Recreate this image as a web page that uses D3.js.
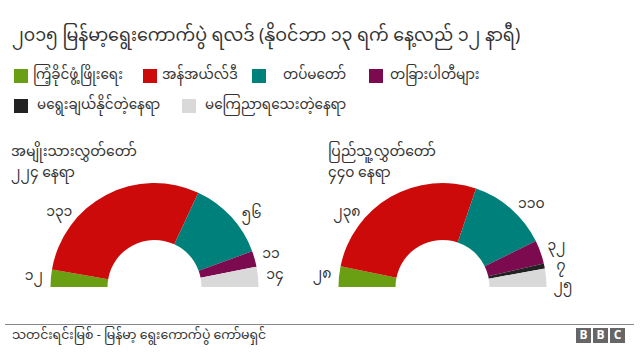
<!DOCTYPE html>
<html>
<head>
<meta charset="utf-8">
<script src="https://cdn.jsdelivr.net/npm/d3@7"></script>
<style>
  html, body { margin: 0; padding: 0; background: #fff; }
  svg { display: block; }
  text { font-family: "Noto Sans Myanmar", "Padauk", "Myanmar Text", "Noto Sans", sans-serif; fill: #333; }
</style>
</head>
<body>
<svg id="chart" width="640" height="360"></svg>
<script>
// ---- data ----
const titleText = "၂၀၁၅ မြန်မာ့ရွေးကောက်ပွဲ ရလဒ် (နိုဝင်ဘာ ၁၃ ရက် နေ့လည် ၁၂ နာရီ)";
const categories = ["ကြံ့ခိုင်ဖွံ့ဖြိုးရေး", "အန်အယ်လ်ဒီ", "တပ်မတော်", "တခြားပါတီများ", "မရွေးချယ်နိုင်တဲ့နေရာ", "မကြေညာရသေးတဲ့နေရာ"];
const colors = ["#6a9e13", "#cc0a0a", "#00807b", "#7b0a4f", "#222222", "#d9d9d9"];
const houseNames = ["အမျိုးသားလွှတ်တော်", "ပြည်သူ့လွှတ်တော်"];
const upperSeats = [12, 131, 56, 11, 0, 14];
const lowerSeats = [28, 238, 110, 32, 7, 25];
const seatWord = "နေရာ";
const sourceText = "သတင်းရင်းမြစ် - မြန်မာ့ ရွေးကောက်ပွဲ ကော်မရှင်";

// ---- helpers ----
const mmDigits = "၀၁၂၃၄၅၆၇၈၉";
const toMM = n => String(n).replace(/[0-9]/g, d => mmDigits[+d]);

const svg = d3.select("#chart");
svg.append("rect").attr("width", 640).attr("height", 360).attr("fill", "#fff");

// title
svg.append("text").attr("x", 12).attr("y", 41)
  .attr("font-size", 17.5).attr("fill", "#3a3a3a").text(titleText);

// legend
const legendPos = [[14, 69, 33], [143, 69, 162], [252, 69, 283], [369, 69, 390], [14, 99, 37], [182, 99, 205]];
const legend = svg.append("g");
categories.forEach((c, i) => {
  const [sx, sy, tx] = legendPos[i];
  legend.append("rect").attr("x", sx).attr("y", sy).attr("width", 14).attr("height", 14).attr("fill", colors[i]);
  legend.append("text").attr("x", tx).attr("y", sy + 7).attr("dominant-baseline", "central")
    .attr("font-size", 13.5).text(c);
});

// donuts
const houses = [
  { name: houseNames[0], seats: upperSeats, cx: 154.5, tx: 11 },
  { name: houseNames[1], seats: lowerSeats, cx: 442.5, tx: 328 }
];
const cy = 287, outerR = 104, innerR = 47, labelR = 121;

const pie = d3.pie().sort(null).startAngle(-Math.PI / 2).endAngle(Math.PI / 2).value(d => d.v);
const arc = d3.arc().innerRadius(innerR).outerRadius(outerR);

houses.forEach(h => {
  const total = d3.sum(h.seats);
  svg.append("text").attr("x", h.tx).attr("y", 152).attr("dominant-baseline", "central")
    .attr("font-size", 14).text(h.name);
  svg.append("text").attr("x", h.tx).attr("y", 173).attr("dominant-baseline", "central")
    .attr("font-size", 14).text(toMM(total) + " " + seatWord);

  const data = h.seats.map((v, i) => ({ v, i }));
  const arcs = pie(data);
  const g = svg.append("g").attr("transform", `translate(${h.cx},${cy})`);
  g.selectAll("path").data(arcs.filter(a => a.data.v > 0)).join("path")
    .attr("d", arc).attr("fill", a => colors[a.data.i]);

  // label positions (along the slice, with large slices labelled toward their start)
  const labels = arcs.filter(a => a.data.v > 0).map(a => {
    const span = a.endAngle - a.startAngle;
    const f = span > Math.PI / 2 ? 0.27 : (span > Math.PI / 6 ? 0.63 : 0.5);
    const ang = a.startAngle + span * f;
    return { v: a.data.v, x: labelR * Math.sin(ang), y: -labelR * Math.cos(ang) };
  });
  const right = labels.filter(l => l.x > 0).sort((a, b) => a.y - b.y);
  for (let k = 1; k < right.length; k++) {
    if (right[k].y < right[k - 1].y + 20) right[k].y = right[k - 1].y + 20;
  }
  g.selectAll("text.lbl").data(labels).join("text").attr("class", "lbl")
    .attr("x", l => l.x).attr("y", l => l.y)
    .attr("text-anchor", "middle").attr("dominant-baseline", "central")
    .attr("font-size", 14).text(l => toMM(l.v));
});

// footer
svg.append("line").attr("x1", 5).attr("x2", 634).attr("y1", 324.5).attr("y2", 324.5)
  .attr("stroke", "#888").attr("stroke-width", 1);
svg.append("text").attr("x", 12).attr("y", 336).attr("dominant-baseline", "central")
  .attr("font-size", 12.5).text(sourceText);
const bbc = svg.append("g");
["B", "B", "C"].forEach((ch, i) => {
  bbc.append("rect").attr("x", 576 + i * 17).attr("y", 328).attr("width", 15).attr("height", 15).attr("fill", "#666");
  bbc.append("text").attr("x", 576 + i * 17 + 7.5).attr("y", 336).attr("text-anchor", "middle")
    .attr("dominant-baseline", "central").attr("font-family", "Liberation Sans, Arial, sans-serif")
    .attr("font-weight", "bold").attr("font-size", 12).style("fill", "#fff").text(ch);
});
</script>
</body>
</html>
